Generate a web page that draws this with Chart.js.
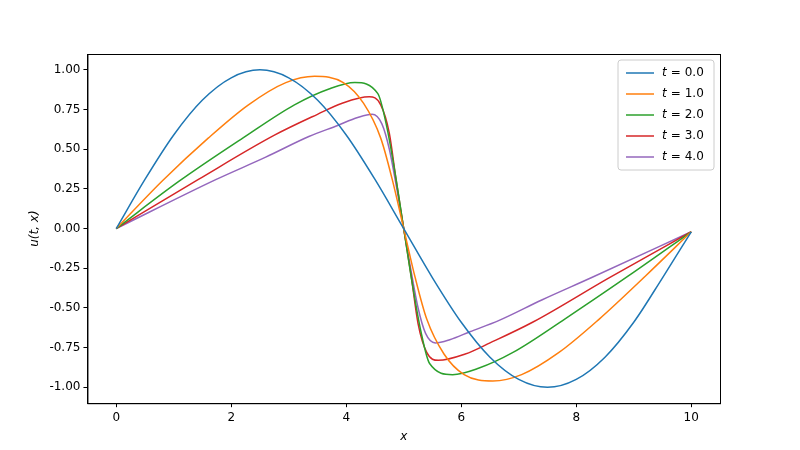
<!DOCTYPE html>
<html>
<head>
<meta charset="utf-8">
<script src="https://cdn.jsdelivr.net/npm/chart.js@4"></script>
<style>body{margin:0;background:#fff}#wrap{width:800px;height:450px}</style>
</head>
<body>
<div id="wrap"><canvas id="c"></canvas></div>
<script>
const labels = ["t = 0.0", "t = 1.0", "t = 2.0", "t = 3.0", "t = 4.0"];
const colors = ["#1f77b4", "#ff7f0e", "#2ca02c", "#d62728", "#9467bd"];

const x0 = [0,0.5,1,1.5,2,2.5,3,3.5,4,4.5,5,5.5,6,6.5,7,7.5,8,8.5,9,9.5,10];
const y0 = [0,0.31,0.59,0.81,0.95,1.0,0.95,0.81,0.59,0.31,0,-0.31,-0.59,-0.81,-0.95,-1.0,-0.95,-0.81,-0.59,-0.31,-0.02];

const x1 = [0,0.8,1.6,2.3,2.95,3.45,3.95,4.3,4.6,4.8,5,5.2,5.4,5.7,6.05,6.55,7.05,7.7,8.4,9.2,10];
const y1 = [0,0.30,0.57,0.78,0.92,0.96,0.92,0.79,0.57,0.31,0,-0.31,-0.57,-0.79,-0.92,-0.96,-0.92,-0.78,-0.57,-0.30,-0.02];

const x2 = [0,1.1,2.2,3.1,3.7,4.15,4.55,4.7,4.85,5,5.15,5.3,5.45,5.85,6.3,6.9,7.8,8.9,10];
const y2 = [0,0.30,0.57,0.78,0.88,0.92,0.85,0.65,0.35,0,-0.35,-0.65,-0.85,-0.92,-0.88,-0.78,-0.57,-0.30,-0.02];

const x3 = [0,1.43,2.76,3.5,3.93,4.4,4.6,4.75,4.87,5,5.13,5.25,5.4,5.6,6.07,6.5,7.24,8.57,10];
const y3 = [0,0.31,0.59,0.72,0.79,0.83,0.78,0.6,0.3,0,-0.3,-0.6,-0.78,-0.83,-0.79,-0.72,-0.59,-0.31,-0.02];

const x4 = [0,1.74,2.6,3.35,3.85,4.2,4.45,4.62,4.75,4.88,5,5.12,5.25,5.38,5.55,5.8,6.15,6.65,7.4,8.26,10];
const y4 = [0,0.31,0.45,0.58,0.65,0.70,0.72,0.66,0.5,0.25,0,-0.25,-0.5,-0.66,-0.72,-0.70,-0.65,-0.58,-0.45,-0.31,-0.02];

const xTicks = [0, 2, 4, 6, 8, 10];
const yTicks = [-1.0, -0.75, -0.5, -0.25, 0, 0.25, 0.5, 0.75, 1.0];

const series = [[x0, y0], [x1, y1], [x2, y2], [x3, y3], [x4, y4]];
const font = { family: "DejaVu Sans", size: 12 };

function pts(xs, ys) {
  return xs.map((x, i) => ({ x: x, y: ys[i] }));
}

const frameAndLegend = {
  id: "frameAndLegend",
  afterDraw(chart) {
    const ctx = chart.ctx;
    const a = chart.chartArea;
    ctx.save();
    ctx.strokeStyle = "#000";
    ctx.lineWidth = 1;
    ctx.strokeRect(a.left + 0.5, a.top + 0.5, a.right - a.left, a.bottom - a.top);

    const w = 96, h = 110, left = a.right - w - 6, top = a.top + 6;
    ctx.fillStyle = "rgba(255,255,255,0.8)";
    ctx.strokeStyle = "#ccc";
    ctx.beginPath();
    ctx.roundRect(left, top, w, h, 3);
    ctx.fill();
    ctx.stroke();
    labels.forEach((lab, i) => {
      const y = top + 13 + i * 21;
      ctx.strokeStyle = colors[i];
      ctx.lineWidth = 1.5;
      ctx.beginPath();
      ctx.moveTo(left + 8, y);
      ctx.lineTo(left + 36, y);
      ctx.stroke();
      ctx.fillStyle = "#000";
      ctx.textBaseline = "middle";
      ctx.font = "italic 12px DejaVu Sans";
      ctx.fillText("t", left + 44, y);
      ctx.font = "12px DejaVu Sans";
      ctx.fillText(lab.slice(1), left + 49, y);
    });
    ctx.restore();
  }
};

const tickGrid = { display: true, drawOnChartArea: false, drawTicks: true, tickLength: 4, color: "#000" };

new Chart(document.getElementById("c"), {
  type: "line",
  data: {
    datasets: series.map((s, i) => ({
      label: labels[i],
      data: pts(s[0], s[1]),
      borderColor: colors[i],
      borderWidth: 1.5,
      pointRadius: 0,
      cubicInterpolationMode: "monotone",
      fill: false
    }))
  },
  options: {
    responsive: true,
    maintainAspectRatio: false,
    animation: false,
    layout: { padding: { left: 24, right: 80, top: 54, bottom: 4 } },
    plugins: { legend: { display: false }, tooltip: { enabled: false } },
    scales: {
      x: {
        type: "linear", min: -0.5, max: 10.5,
        afterBuildTicks: ax => { ax.ticks = xTicks.map(v => ({ value: v })); },
        grid: tickGrid,
        border: { color: "#000" },
        ticks: { color: "#000", font: font, padding: 3, callback: v => String(v) },
        title: { display: true, text: "x", color: "#000", padding: 2, font: { family: "DejaVu Sans", size: 12, style: "italic" } }
      },
      y: {
        min: -1.1, max: 1.1,
        afterBuildTicks: ax => { ax.ticks = yTicks.map(v => ({ value: v })); },
        grid: tickGrid,
        border: { color: "#000" },
        ticks: { color: "#000", font: font, padding: 3, callback: v => v.toFixed(2) },
        title: { display: true, text: "u(t, x)", color: "#000", font: { family: "DejaVu Sans", size: 12, style: "italic" } }
      }
    }
  },
  plugins: [frameAndLegend]
});
</script>
</body>
</html>
